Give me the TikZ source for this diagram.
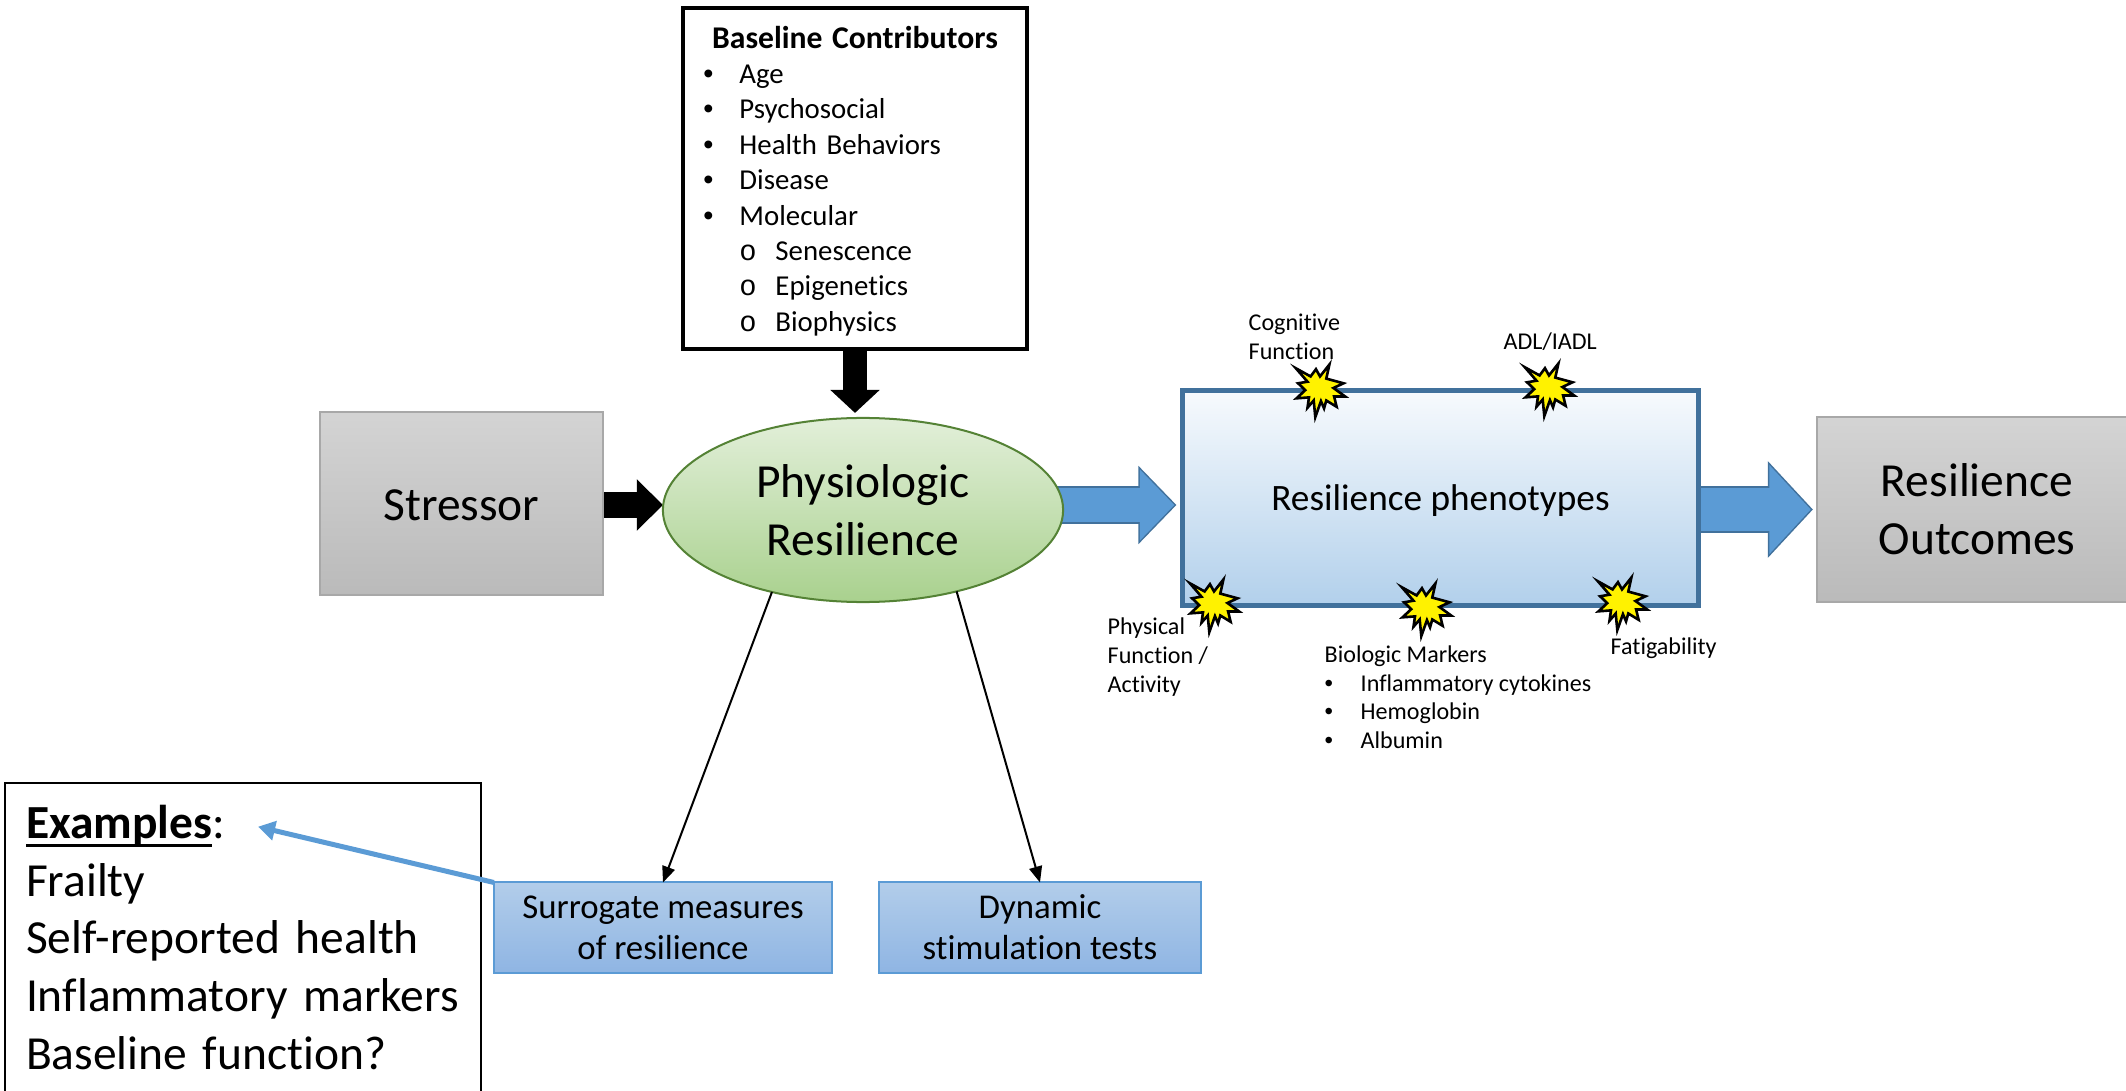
\documentclass[tikz,border=0pt]{standalone}
\usepackage{fontspec}
\setmainfont[Ligatures=NoCommon]{Carlito}
\newfontfamily\monofont{Liberation Mono}
\newfontfamily\dotfont{Liberation Sans}
\usetikzlibrary{arrows.meta}
\usetikzlibrary{calc}
\usetikzlibrary{shapes.geometric}
\usetikzlibrary{backgrounds}

\definecolor{edgegray}{HTML}{A8A8A8}
\definecolor{boxblue}{HTML}{5B9BD5}
\definecolor{darkblue}{HTML}{41719C}
\definecolor{edgegreen}{HTML}{548235}
\definecolor{lightgreen}{HTML}{E2EFD9}
\definecolor{midgreen}{HTML}{A9D18E}
\definecolor{softblue}{HTML}{B2CDEA}
\definecolor{deepblue}{HTML}{8FB5E3}

\newcommand{\thickul}[1]{\setbox0=\hbox{#1}\makebox[0pt][l]{\rule[-2.5pt]{\wd0}{0.9pt}}\box0}
\newcommand{\blt}[1]{\makebox[0.36cm][l]{{\dotfont\textbullet}}#1}
\newcommand{\subblt}[1]{\hspace*{0.36cm}\makebox[0.36cm][l]{{\monofont o}}#1}
\newcommand{\burstpath}{(-25.7,-21) -- (-10,-12.3) -- (-4.3,-20) -- (0,-12.3) -- (10,-25) -- (6.7,-10) -- (25,-5) -- (14.3,0) -- (26.7,9) -- (15,9) -- (17.7,20) -- (6.7,13.3) -- (4.3,21.7) -- (1,14) -- (-5,31) -- (-6.7,13.3) -- (-13.3,21) -- (-11.7,10) -- (-25,11) -- (-15.7,2.3) -- (-23.3,-5) -- (-13.3,-6.7) -- cycle}

\tikzset{
  graybox/.style={draw=edgegray, line width=0.2mm, top color=black!17, bottom color=black!27, outer sep=0pt, align=center, font=\fontsize{13.5}{16.5}\selectfont},
  bluebox/.style={draw=boxblue, line width=0.2mm, top color=softblue, bottom color=deepblue, outer sep=0pt, align=center, minimum width=3.38cm, minimum height=0.9cm, inner sep=0pt, font=\fontsize{9.9}{11.7}\selectfont},
  smalltext/.style={anchor=north west, inner sep=0pt, align=left, font=\fontsize{6.85}{8.2}\selectfont},
  burst/.style={draw=black, fill=yellow, line width=0.26mm, miter limit=20, scale=0.94},
  blacklink/.style={line width=0.25cm, black},
  thinlink/.style={line width=0.2mm, -{Triangle[length=1.6mm,width=1.3mm]}},
}

\begin{document}
\begin{tikzpicture}[x=0.01cm,y=-0.01cm]
      \path[use as bounding box, clip] (0,0) rectangle (2126,1091);

      % Boxes
      \node[draw, line width=0.4mm, outer sep=0pt, minimum width=3.43cm, minimum height=3.41cm, text width=3.03cm, inner xsep=0.2cm, inner ysep=0pt, align=left, font=\fontsize{8.2}{10.07}\selectfont] (contrib) at (855,178.5) {\rule{0pt}{7.7pt}\makebox[\linewidth][c]{\fontsize{9}{10.07}\selectfont\textbf{Baseline Contributors}}\\ \blt{Age}\\ \blt{Psychosocial}\\ \blt{Health Behaviors}\\ \blt{Disease}\\ \blt{Molecular}\\ \subblt{Senescence}\\ \subblt{Epigenetics}\\ \subblt{Biophysics}};
      \node[graybox, minimum width=2.82cm, minimum height=1.83cm] (stressor) at (461.5,503.5) {\raisebox{-0.43pt}[\height][\depth]{Stressor}};
      \node[ellipse, draw=edgegreen, line width=0.2mm, top color=lightgreen, bottom color=midgreen, outer sep=0pt, inner sep=0pt, minimum width=4cm, minimum height=1.84cm, align=center, font=\fontsize{13.5}{16.5}\selectfont] (phys) at (863,510) {Physiologic\\Resilience};
      \node[draw=darkblue, line width=0.5mm, top color=boxblue!5!white, bottom color=boxblue!47!white, outer sep=0pt, minimum width=5.15cm, minimum height=2.14cm, font=\fontsize{10.6}{12.9}\selectfont] (pheno) at (1440.5,498) {\raisebox{-0.8pt}[\height][\depth]{Resilience phenotypes}};
      \node[graybox, minimum width=3.2cm, minimum height=1.85cm] (outcomes) at (1977,509.5) {Resilience\\Outcomes};
      \node[bluebox] (surrogate) at (663,927.5) {Surrogate measures\\of resilience};
      \node[bluebox, minimum width=3.22cm] (dynamic) at (1040,927.5) {Dynamic\\stimulation tests};
      \node[draw, line width=0.2mm, anchor=north west, outer sep=0pt, minimum width=4.76cm, text width=4.34cm, inner xsep=0.21cm, inner ysep=0.22cm, align=left, font=\fontsize{13.5}{16.4}\selectfont] (examples) at (5,783) {\thickul{\textbf{Examples}}:\\ Frailty\\ Self-reported health\\ Inflammatory markers\\ Baseline function?\\ \strut};

      % Arrow ends
      \coordinate (stressin) at ($(phys.west)+(0,-5)$);
      \coordinate (physin) at ($(phys.north)+(-8,-5)$);
      \coordinate (physout) at ($(phys.east)+(-10,-5)$);
      \coordinate (phenoin) at ($(pheno.west)+(-6.4,7)$);
      \coordinate (outcomesin) at ($(outcomes.west)+(-4,0)$);
      \coordinate (exampletip) at (258,826.7);

      % Block arrows
      \begin{scope}[on background layer]
        \draw[blacklink, -{Triangle[length=2.6mm,width=5mm]}] (stressor.east |- stressin) -- (stressin);
        \draw[blacklink, line width=0.24cm, -{Triangle[length=2.3mm,width=4.8mm]}] (contrib.south) -- (physin);
        \draw[darkblue, line width=0.37cm, -{Triangle[length=3.8mm,width=7.6mm]}] (physout) -- (phenoin);
        \draw[boxblue, line width=0.34cm, shorten >=0.21mm, -{Triangle[length=3.44mm,width=6.88mm]}] (physout) -- (phenoin);
        \draw[darkblue, line width=0.46cm, -{Triangle[length=4.5mm,width=9.4mm]}] (pheno.east |- outcomesin) -- (outcomesin);
        \draw[boxblue, line width=0.43cm, shorten >=0.21mm, -{Triangle[length=4.14mm,width=8.65mm]}] (pheno.east |- outcomesin) -- (outcomesin);
      \end{scope}

      % Thin arrows
      \draw[thinlink] (phys.222.7) -- (surrogate.north);
      \draw[thinlink] (phys.-41.4) -- (dynamic.north);
      \draw[boxblue, line width=0.5mm, -{Triangle[length=1.7mm,width=1.9mm]}] (surrogate.north west) -- (exampletip);

      % Bursts
      \foreach \x/\y in {1320/388,1549/387,1214/603,1426/607,1622/601}
      {
        \draw[shift={(\x,\y)}, burst] \burstpath;
      }

      % Labels
      \node[smalltext] (cognitive) at (1248,313.5) {Cognitive\\Function};
      \node[smalltext] (adl) at (1503,332.5) {ADL/IADL};
      \node[smalltext] (physical) at (1107,617.5) {Physical\\Function /\\Activity};
      \node[smalltext, font=\fontsize{6.85}{8.1}\selectfont] (biologic) at (1324,645.5) {Biologic Markers\\ \blt{Inflammatory cytokines}\\ \blt{Hemoglobin}\\ \blt{Albumin}};
      \node[smalltext] (fatigue) at (1610,637.5) {Fatigability};
\end{tikzpicture}
\end{document}
